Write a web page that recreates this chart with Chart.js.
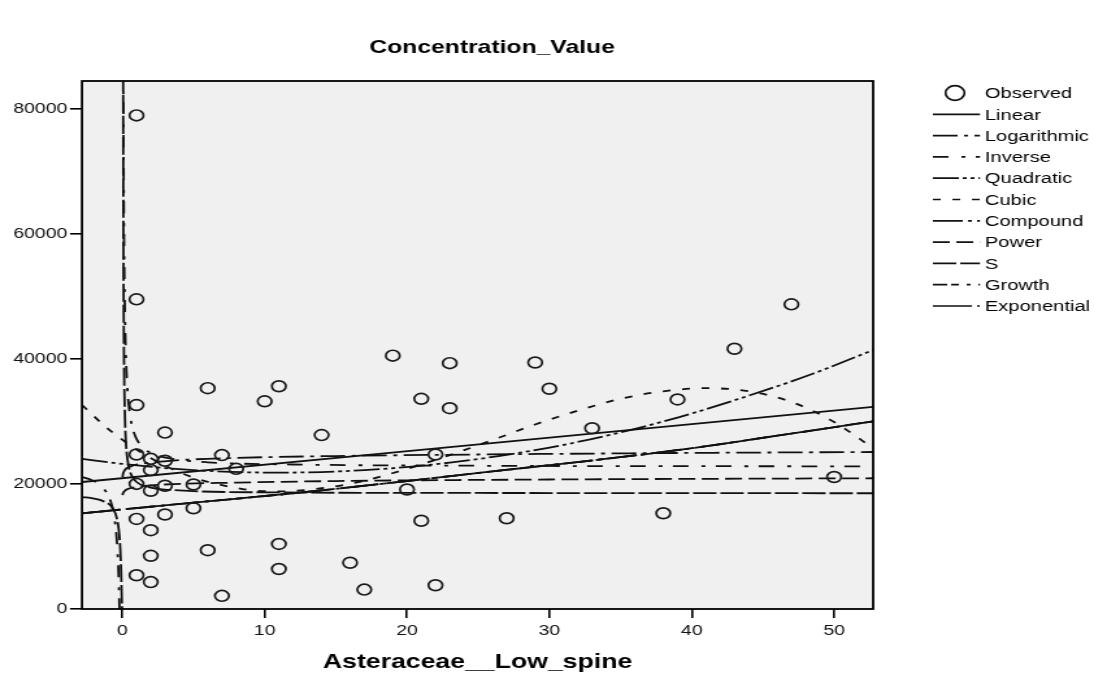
<!DOCTYPE html>
<html>
<head>
<meta charset="utf-8">
<title>Concentration_Value</title>
<script src="https://cdn.jsdelivr.net/npm/chart.js@4.4.1/dist/chart.umd.min.js"></script>
<style>
  html, body { margin: 0; padding: 0; background: #fff; overflow: hidden; }
  #wrap { width: 1094px; height: 683px; overflow: hidden; }
  /* the reference picture is stretched sideways, so the canvas is too */
  #myChart { display: block; transform: scaleX(1.2993); transform-origin: 0 0; }
</style>
</head>
<body>
<div id="wrap"><canvas id="myChart" width="842" height="683"></canvas></div>
<script>
// observed points
var obsX = [1, 1, 1, 6, 11, 10, 3, 1, 2, 3, 7, 2, 8, 1, 2, 3, 5, 5, 3, 1, 2, 6, 11, 2, 11, 1, 2, 7,
            19, 23, 29, 21, 23, 30, 14, 33, 22, 20, 21, 27, 16, 17, 22, 47, 43, 39, 50, 38];
var obsY = [78900, 49500, 32600, 35300, 35600, 33200, 28200, 24700, 24000, 23700, 24600, 22200, 22400, 20000,
            18900, 19700, 19900, 16100, 15100, 14400, 12600, 9400, 10400, 8500, 6400, 5400, 4300, 2100,
            40500, 39300, 39400, 33600, 32100, 35200, 27800, 28900, 24700, 19100, 14100, 14500, 7400, 3100,
            3800, 48700, 41600, 33500, 21100, 15300];

// fitted curves (null = break at x = 0)
var linX = [-2.83, 52.74];
var linY = [20300, 32300];

var logX = [0.02, 0.05, 0.1, 0.25, 0.5, 1, 2, 4, 8, 15, 25, 40, 52.74];
var logY = [21100, 21550, 21900, 22400, 22700, 23100, 23400, 23800, 24150, 24450, 24700, 24950, 25100];

var invX = [-2.83, -2.2, -1.6, -1.1, -0.8, -0.6, -0.45, -0.35, -0.28, -0.23, -0.19, 0,
            0.05, 0.065, 0.08, 0.1, 0.13, 0.17, 0.22, 0.3, 0.4, 0.55, 0.75, 1, 1.5, 2.2, 3.5, 6, 12, 25, 52.74];
var invY = [21100, 20650, 19900, 18600, 17100, 15200, 12700, 9850, 6650, 3150, -1000, null,
            112700, 91900, 78950, 67700, 57300, 49200, 43150, 37700, 33950, 30900, 28700, 27200, 25700, 24750,
            24000, 23450, 23100, 22900, 22800];

var quadX = [-2.83, 0, 5, 11, 17, 23, 29, 34, 39, 44, 48.5, 52.74];
var quadY = [24000, 23200, 22200, 21800, 22200, 23400, 25400, 27700, 30600, 34100, 37600, 41400];

var cubX = [-2.83, -1, 1, 3, 5, 7, 9, 11, 14, 17, 20, 23, 26, 29, 32, 35, 38, 41, 44, 47, 50, 52.74];
var cubY = [32600, 28800, 25500, 22900, 21000, 19800, 19000, 18800, 19300, 20500, 22400, 24600, 27000,
            29500, 31700, 33600, 34800, 35300, 34800, 33100, 29900, 25700];

// compound, growth and exponential give the same curve
var expX = [-2.83, 5, 12, 19, 26, 33.6, 40, 46, 52.74];
var expY = [15300, 17000, 18500, 20200, 22000, 23900, 25700, 27700, 30000];

var powX = [0.02, 0.05, 0.1, 0.3, 1, 3, 8, 15, 30, 52.74];
var powY = [18200, 18500, 18700, 19100, 19500, 19900, 20200, 20450, 20700, 20900];

var sX = [-2.83, -2, -1.3, -0.8, -0.5, -0.3, -0.2, -0.14, -0.1, -0.07, -0.05, -0.035, -0.025, -0.015, 0,
          0.045, 0.055, 0.065, 0.08, 0.1, 0.13, 0.17, 0.22, 0.3, 0.45, 0.7, 1, 2, 4, 10, 25, 52.74];
var sY = [17900, 17650, 17200, 16500, 15350, 13550, 11600, 9500, 7300, 4900, 2900, 1300, 450, 40, null,
          146000, 100300, 77400, 59200, 46900, 37800, 32000, 28200, 25200, 22750, 21150, 20300, 19400,
          18950, 18650, 18550, 18500];

var xTicks = [0, 10, 20, 30, 40, 50];
var yTicks = [0, 20000, 40000, 60000, 80000];

var legendNames = ['Observed', 'Linear', 'Logarithmic', 'Inverse', 'Quadratic', 'Cubic',
                   'Compound', 'Power', 'S', 'Growth', 'Exponential'];

function pts(xs, ys) {
    return xs.map(function (x, i) { return { x: x, y: ys[i] }; });
}

var FONT = '"Liberation Sans", Arial, sans-serif';
Chart.defaults.font.family = FONT;
Chart.defaults.color = '#111';

// dash pattern for each curve, in legend order
var curves = [
    { data: pts(linX, linY),  dash: [] },
    { data: pts(logX, logY),  dash: [19, 5, 3, 5] },
    { data: pts(invX, invY),  dash: [12, 10, 3, 8] },
    { data: pts(quadX, quadY), dash: [20, 3, 3, 3, 3, 3] },
    { data: pts(cubX, cubY),  dash: [6, 9] },
    { data: pts(expX, expY),  dash: [23, 4, 3, 4] },
    { data: pts(powX, powY),  dash: [13, 5] },
    { data: pts(sX, sY),      dash: [18, 3] },
    { data: pts(expX, expY),  dash: [11, 3, 6, 6, 3, 6] },
    { data: pts(expX, expY),  dash: [30, 4, 2, 4] }
];

var datasets = [{
    label: 'Observed',
    data: pts(obsX, obsY),
    pointStyle: 'circle',
    pointRadius: 5.4,
    pointBorderWidth: 1.7,
    pointBorderColor: '#1a1a1a',
    pointBackgroundColor: 'rgba(0,0,0,0)',
    showLine: false
}];
curves.forEach(function (c, i) {
    datasets.push({
        label: legendNames[i + 1],
        data: c.data,
        showLine: true,
        pointRadius: 0,
        borderColor: '#111',
        borderWidth: 1.8,
        borderDash: c.dash,
        cubicInterpolationMode: 'monotone',
        spanGaps: false
    });
});

var decorations = {
    id: 'decorations',
    beforeDraw: function (chart) {
        var a = chart.chartArea, ctx = chart.ctx;
        ctx.save();
        ctx.fillStyle = '#f0f0f0';
        ctx.fillRect(a.left, a.top, a.right - a.left, a.bottom - a.top);
        ctx.restore();
    },
    afterDatasetsDraw: function (chart) {
        var a = chart.chartArea, ctx = chart.ctx;
        ctx.save();
        ctx.strokeStyle = '#000';
        ctx.lineWidth = 1.8;
        ctx.strokeRect(a.left, a.top, a.right - a.left, a.bottom - a.top);
        ctx.restore();
    },
    afterDraw: function (chart) {
        var ctx = chart.ctx;
        ctx.save();
        // title
        ctx.fillStyle = '#000';
        ctx.font = 'bold 19px ' + FONT;
        ctx.textAlign = 'center';
        ctx.textBaseline = 'middle';
        ctx.fillText('Concentration_Value', 378.7, 48);

        // legend
        ctx.textAlign = 'left';
        ctx.font = '15.5px ' + FONT;
        ctx.strokeStyle = '#111';
        ctx.lineWidth = 1.7;
        legendNames.forEach(function (name, i) {
            var y = 93 + i * 21.3;
            ctx.beginPath();
            if (i === 0) {
                ctx.setLineDash([]);
                ctx.arc(735, y, 7.3, 0, Math.PI * 2);
            } else {
                ctx.setLineDash(curves[i - 1].dash);
                ctx.moveTo(718, y);
                ctx.lineTo(754.2, y);
            }
            ctx.stroke();
            ctx.fillText(name, 758, y + 1);
        });
        ctx.restore();
    }
};

var ctx = document.getElementById('myChart').getContext('2d');
var myChart = new Chart(ctx, {
    type: 'scatter',
    data: { datasets: datasets },
    options: {
        responsive: false,
        devicePixelRatio: 1,
        animation: false,
        events: [],
        layout: { padding: { top: 81, right: 170, bottom: 0, left: 0 } },
        plugins: {
            legend: { display: false },
            title: { display: false },
            tooltip: { enabled: false }
        },
        scales: {
            x: {
                type: 'linear',
                min: -2.83,
                max: 52.74,
                afterBuildTicks: function (scale) {
                    scale.ticks = xTicks.map(function (v) { return { value: v }; });
                },
                afterFit: function (scale) { scale.height = 74; },
                border: { display: false },
                grid: { drawOnChartArea: false, drawTicks: true, tickLength: 9, color: '#000', lineWidth: 1.6 },
                ticks: {
                    padding: 4,
                    font: { size: 15 },
                    callback: function (v) { return String(v); }
                },
                title: {
                    display: true,
                    text: 'Asteraceae__Low_spine',
                    color: '#000',
                    font: { size: 20.5, weight: 'bold' },
                    padding: { top: 2, bottom: 8 }
                }
            },
            y: {
                type: 'linear',
                min: 0,
                max: 84400,
                afterBuildTicks: function (scale) {
                    scale.ticks = yTicks.map(function (v) { return { value: v }; });
                },
                afterFit: function (scale) { scale.width = 63.1; },
                border: { display: false },
                grid: { drawOnChartArea: false, drawTicks: true, tickLength: 9.2, color: '#000', lineWidth: 1.6 },
                ticks: {
                    padding: 2,
                    font: { size: 15 },
                    callback: function (v) { return String(v); }
                }
            }
        }
    },
    plugins: [decorations]
});
</script>
</body>
</html>
